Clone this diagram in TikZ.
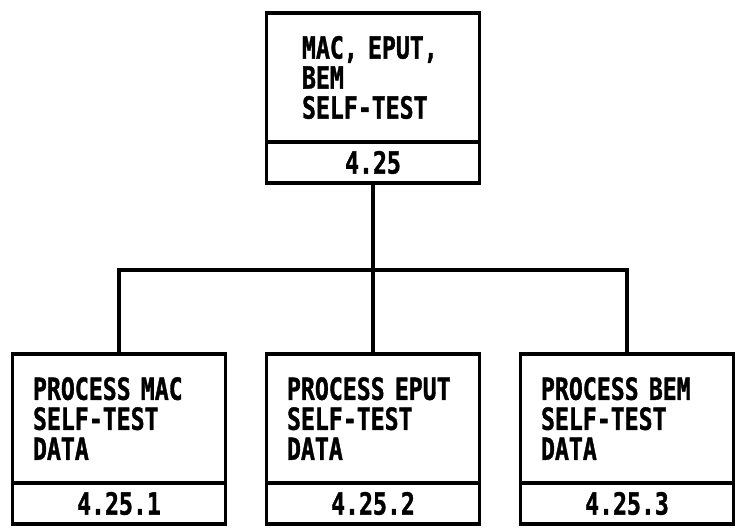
\documentclass[tikz,border=0pt]{standalone}
\usepackage{fontspec}
\usepackage{tikz}
\usetikzlibrary{positioning}
\newfontfamily\lettering[FakeStretch=0.76,FakeBold=1.2]{DejaVu Sans Mono}
\tikzstyle{body} = [draw, line width=3.5pt, outer sep=0pt, inner sep=0pt, minimum width=213pt, minimum height=129pt, text width=172pt, align=left, font={\lettering\bfseries\fontsize{30.5}{30}\selectfont}]
\tikzstyle{num} = [draw, line width=3.5pt, outer sep=0pt, inner sep=0pt, minimum width=213pt, minimum height=41pt, font={\lettering\bfseries\fontsize{30.5}{30}\selectfont}]
\tikzstyle{link} = [line width=3.5pt]

\begin{document}
\begin{tikzpicture}[x=1pt,y=1pt]
			\useasboundingbox (0,0) rectangle (736,-529);
			% top box
			\node[body, text width=142pt] (topbody) at (373,-77.5) {MAC, EPUT,\\BEM\\SELF-TEST};
			\node[num, below=0pt of topbody] (topnum) {4.25};
			
			% lower boxes
			\node[body] (midbody) at (373,-418.5) {PROCESS EPUT\\SELF-TEST\\DATA};
			\node[num, below=0pt of midbody] (midnum) {4.25.2};
			\node[body, left=41pt of midbody] (leftbody) {PROCESS MAC\\SELF-TEST\\DATA};
			\node[num, below=0pt of leftbody] (leftnum) {4.25.1};
			\node[body, right=41pt of midbody] (rightbody) {PROCESS BEM\\SELF-TEST\\DATA};
			\node[num, below=0pt of rightbody] (rightnum) {4.25.3};
			
			% connectors
			\coordinate (bus) at (373,-270);
			\draw[link] (topnum.south) -- (midbody.north);
			\draw[link] (leftbody.north) |- (bus) -| (rightbody.north);
		\end{tikzpicture}
\end{document}
